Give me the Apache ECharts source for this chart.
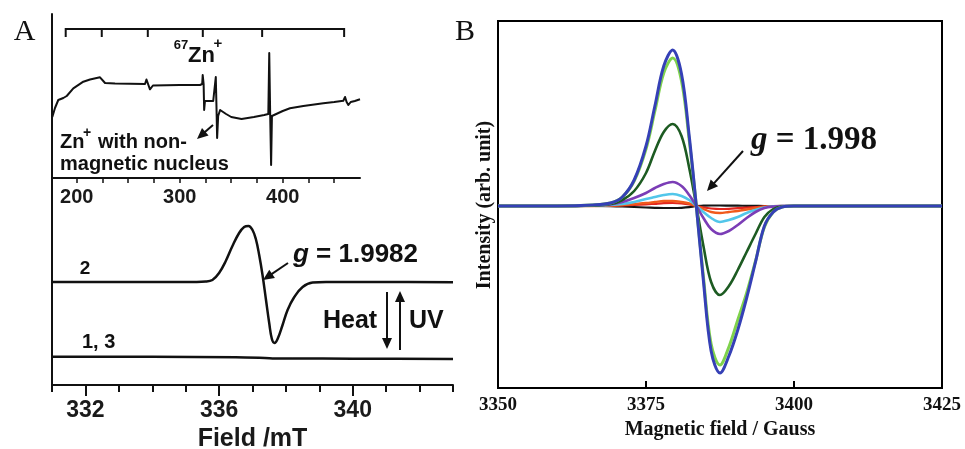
<!DOCTYPE html>
<html>
<head>
<meta charset="utf-8">
<script src="https://cdn.jsdelivr.net/npm/echarts@6/dist/echarts.min.js"></script>
<style>
html,body{margin:0;padding:0;background:#fff;}
#c{width:965px;height:449px;}
</style>
</head>
<body>
<div id="c"></div>
<script>
// ---------- Panel A, main spectra (Field / mT) ----------
const fieldA2 = [331, 333, 335, 335.6, 335.8, 336.0, 336.2, 336.4, 336.6, 336.75, 336.88, 337.0, 337.1, 337.2, 337.3, 337.4, 337.5, 337.58, 337.66, 337.75, 337.9, 338.05, 338.25, 338.5, 338.8, 339.2, 341, 343];
const trace2  = [103, 103, 103, 103.5, 105, 112, 124, 139, 152, 158, 159, 155, 146, 130, 110, 86, 62, 46, 42, 46, 60, 75, 88, 98, 102.5, 103, 103, 102.7];
const fieldA13 = [331, 334, 336.5, 337.2, 337.6, 338.2, 340, 343];
const trace13  = [28.3, 28.2, 27.8, 27.2, 26.6, 26.5, 26.3, 26.0];
const tickA  = [331, 332, 333, 334, 335, 336, 337, 338, 339, 340, 341, 342, 343];
const majorA = [332, 336, 340];

// ---------- Panel A, inset (wide scan, mT) ----------
const insetField = [176.3, 178.9, 182.1, 187, 190.3, 196.7, 206.4, 212.9, 222.6, 224.3, 227.5, 237.2, 266.3, 267.7, 271.1, 274, 300, 319.7, 321.8, 322.3, 323.2, 323.7, 324.5, 332.5, 334.3, 335.0, 335.7, 336.3, 337.3, 339.2, 345, 350, 360, 372, 382, 386.0, 386.9, 387.8, 388.7, 389.5, 391, 400, 407, 420, 439.4, 450, 458.8, 460.5, 462, 463.7, 466, 470, 475];
const insetValue = [61, 70, 78, 80, 82, 89.7, 96.3, 98.5, 100.7, 102, 95, 94.5, 94, 98.5, 88.7, 92.5, 93, 93, 94, 103, 94, 68, 77, 77, 78, 101, 70, 40, 62, 68, 64, 61, 59, 61, 63, 64, 125, 64, 13, 62, 64, 67, 69.7, 72, 74.7, 76, 77.3, 81, 76, 73, 76, 77, 78.7];
const hyperfineLines = [189.3, 224.3, 269, 322.4, 380, 459.6];
const insetTicks  = [200, 225, 250, 275, 300, 325, 350, 375, 400, 425, 450];
const insetLabels = [200, 300, 400];

// ---------- Panel B (Magnetic field / Gauss) ----------
const fieldB = [3350, 3360, 3366, 3369, 3371, 3373, 3375, 3376.5, 3378, 3379.5, 3381, 3382.3, 3383.5, 3384.7, 3386, 3387.5, 3389, 3390.5, 3392, 3393.5, 3395, 3396.5, 3398, 3400, 3410, 3425];
const bBlack  = [0, 0, 0, -0.2, -0.5, -1, -1.5, -1.8, -2, -2, -1.8, -1.2, 0, 0.3, 0.5, 0.5, 0.4, 0.3, 0.2, 0.1, 0, 0, 0, 0, 0, 0];
const bRed    = [0, 0, 0, 0.3, 0.6, 1, 1.6, 2.2, 2.8, 3, 2.5, 1.5, 0, -1.5, -2.5, -3, -2.8, -2.2, -1.6, -1, -0.4, -0.1, 0, 0, 0, 0];
const bOrange = [0, 0, 0, 0.5, 1, 2, 3, 4, 5, 5, 4, 2.5, 0, -3, -6, -7, -6, -5, -3.5, -2, -0.8, -0.2, 0, 0, 0, 0];
const bCyan   = [0, 0, 0.3, 1, 2, 4, 7, 9, 11, 12, 10, 6, 0, -6, -12, -16, -14, -11, -7, -4, -1.5, -0.3, 0, 0, 0, 0];
const bPurple = [0, 0, 0.5, 1.5, 4, 8, 13, 18, 22, 24, 20, 11, 0, -12, -23, -28, -25, -19, -12, -6, -2, -0.5, 0, 0, 0, 0];
const bDkGreen= [0, 0, 0.5, 2, 6, 15, 33, 55, 74, 82, 70, 38, 0, -40, -76, -89, -80, -64, -46, -28, -11, -3, -0.5, 0, 0, 0];
const bLtGreen= [0, 0, 1, 3, 9, 25, 57, 95, 133, 148, 125, 66, 0, -71, -138, -159, -141, -114, -87, -55, -21, -6, -1, 0, 0, 0];
const bBlue   = [0, 0, 1, 3, 9, 26, 60, 100, 140, 156, 132, 70, 0, -75, -145, -167, -150, -124, -92, -56, -20, -6, -1, 0, 0, 0];
const ticksB = [3350, 3375, 3400, 3425];

const zip = (xs, ys) => xs.map((x, i) => [x, ys[i]]);
const SANS = '"Liberation Sans", Arial, sans-serif';
const SERIF = '"Liberation Serif", "Times New Roman", serif';
const INK = '#111';

function bLine(data, color, width) {
  return {type: 'line', xAxisIndex: 3, yAxisIndex: 2, data: zip(fieldB, data), smooth: 0.35,
    showSymbol: false, symbol: 'none', lineStyle: {color: color, width: width}, z: 3};
}

function arrow(x1, y1, x2, y2) {
  const dx = x2 - x1, dy = y2 - y1, L = Math.hypot(dx, dy), ux = dx / L, uy = dy / L;
  const hl = 11, hw = 5;
  const bx = x2 - ux * hl, by = y2 - uy * hl;
  return [
    {type: 'line', shape: {x1: x1, y1: y1, x2: bx + ux * 2, y2: by + uy * 2}, style: {stroke: INK, lineWidth: 2}, z: 10},
    {type: 'polygon', shape: {points: [[x2, y2], [bx - uy * hw, by + ux * hw], [bx + uy * hw, by - ux * hw]]}, style: {fill: INK}, z: 10}
  ];
}
function txt(x, y, text, font, align, extra) {
  return Object.assign({type: 'text', x: x, y: y, z: 10,
    style: Object.assign({text: text, font: font, fill: INK, align: align || 'left', verticalAlign: 'middle'}, extra || {})});
}

const chart = echarts.init(document.getElementById('c'), null, {renderer: 'canvas'});

const option = {
  animation: false,
  backgroundColor: '#fff',
  grid: [
    {left: 52, top: 14, width: 401, height: 371, containLabel: false, outerBoundsMode: 'none'},
    {left: 52, top: 14, width: 308, height: 164, containLabel: false, outerBoundsMode: 'none'},
    {left: 498, top: 21, width: 444, height: 367, containLabel: false, outerBoundsMode: 'none',
     show: true, borderColor: '#000', borderWidth: 2, backgroundColor: 'transparent'}
  ],
  xAxis: [
    {gridIndex: 0, type: 'value', min: 331, max: 343, position: 'bottom',
     axisLine: {onZero: false, lineStyle: {color: INK, width: 2}},
     axisTick: {customValues: tickA, length: 7, lineStyle: {color: INK, width: 2}},
     axisLabel: {customValues: majorA, margin: 14, fontSize: 23, fontWeight: 'bold', fontFamily: SANS, color: '#1a1a1a'},
     splitLine: {show: false},
     name: 'Field /mT', nameLocation: 'middle', nameGap: 41,
     nameTextStyle: {fontSize: 25, fontWeight: 'bold', fontFamily: SANS, color: '#1a1a1a'}},
    {gridIndex: 0, type: 'value', min: 331, max: 343, position: 'bottom',
     axisLine: {show: false, onZero: false},
     axisTick: {customValues: majorA, length: 11, lineStyle: {color: INK, width: 2}},
     axisLabel: {show: false}, splitLine: {show: false}},
    {gridIndex: 1, type: 'value', min: 176, max: 475, position: 'bottom',
     axisLine: {onZero: false, lineStyle: {color: INK, width: 2}},
     axisTick: {customValues: insetTicks, length: 5, lineStyle: {color: INK, width: 1.5}},
     axisLabel: {customValues: insetLabels, margin: 9, fontSize: 20, fontWeight: 'bold', fontFamily: SANS, color: '#1a1a1a'},
     splitLine: {show: false}},
    {gridIndex: 2, type: 'value', min: 3350, max: 3425, interval: 25, position: 'bottom',
     axisLine: {onZero: false, lineStyle: {color: '#000', width: 2}},
     axisTick: {inside: true, length: 7, lineStyle: {color: '#000', width: 2}},
     axisLabel: {customValues: ticksB, margin: 8, fontSize: 19, fontWeight: 'bold', fontFamily: SERIF, color: '#111',
                 formatter: function (v) { return String(v); }},
     splitLine: {show: false},
     name: 'Magnetic field / Gauss', nameLocation: 'middle', nameGap: 32,
     nameTextStyle: {fontSize: 20, fontWeight: 'bold', fontFamily: SERIF, color: '#111'}}
  ],
  yAxis: [
    {gridIndex: 0, type: 'value', min: 0, max: 371,
     axisLine: {show: true, onZero: false, lineStyle: {color: INK, width: 2}},
     axisTick: {show: false}, axisLabel: {show: false}, splitLine: {show: false}},
    {gridIndex: 1, type: 'value', min: 0, max: 164, show: false, splitLine: {show: false}},
    {gridIndex: 2, type: 'value', min: -182, max: 185,
     axisLine: {show: true, onZero: false, lineStyle: {color: '#000', width: 2}},
     axisTick: {show: false}, axisLabel: {show: false}, splitLine: {show: false}}
  ],
  series: [
    // Panel A main
    {type: 'line', xAxisIndex: 0, yAxisIndex: 0, data: zip(fieldA2, trace2), smooth: 0.4, symbol: 'none',
     lineStyle: {color: INK, width: 2.5}},
    {type: 'line', xAxisIndex: 0, yAxisIndex: 0, data: zip(fieldA13, trace13), smooth: 0.3, symbol: 'none',
     lineStyle: {color: INK, width: 2.5}},
    // Panel A inset spectrum
    {type: 'line', xAxisIndex: 2, yAxisIndex: 1, data: zip(insetField, insetValue), smooth: false, symbol: 'none',
     lineStyle: {color: INK, width: 2, join: 'round'}},
    // 67Zn+ hyperfine stick bracket
    {type: 'line', xAxisIndex: 2, yAxisIndex: 1,
     data: [[hyperfineLines[0], 149], [hyperfineLines[hyperfineLines.length - 1], 149]],
     symbol: 'none', lineStyle: {color: INK, width: 2}},
    {type: 'custom', xAxisIndex: 2, yAxisIndex: 1, data: hyperfineLines.map(v => [v]),
     renderItem: function (params, api) {
       const p1 = api.coord([api.value(0), 149]);
       const p2 = api.coord([api.value(0), 141]);
       return {type: 'line', shape: {x1: p1[0], y1: p1[1] - 1, x2: p2[0], y2: p2[1]}, style: {stroke: INK, lineWidth: 2}};
     }},
    // Panel B
    bLine(bBlack, '#151515', 2.2),
    bLine(bRed, '#e3261e', 2.2),
    bLine(bOrange, '#f05a1c', 2.4),
    bLine(bCyan, '#52c6ea', 2.6),
    bLine(bPurple, '#7b3db6', 2.6),
    bLine(bDkGreen, '#1d5b22', 2.6),
    bLine(bLtGreen, '#7fd24c', 3),
    bLine(bBlue, '#3540b6', 3)
  ],
  graphic: [].concat(
    [
      txt(24.5, 32, 'A', 'normal 30px ' + SERIF, 'center'),
      txt(465, 32, 'B', 'normal 30px ' + SERIF, 'center'),
      // 67Zn+
      txt(181, 45, '67', 'bold 13px ' + SANS, 'center'),
      txt(188, 56, 'Zn', 'bold 22px ' + SANS, 'left'),
      txt(218, 44, '+', 'bold 15px ' + SANS, 'center'),
      // Zn+ with non-magnetic nucleus
      txt(60, 142, 'Zn', 'bold 20px ' + SANS, 'left'),
      txt(87, 133, '+', 'bold 14px ' + SANS, 'center'),
      txt(98, 142, 'with non-', 'bold 20px ' + SANS, 'left'),
      txt(60, 164, 'magnetic nucleus', 'bold 20px ' + SANS, 'left'),
      // curve labels
      txt(85, 269, '2', 'bold 19px ' + SANS, 'center'),
      txt(82, 342, '1, 3', 'bold 20px ' + SANS, 'left'),
      txt(293, 255, '{i|g}{n| = 1.9982}', 'bold 26px ' + SANS, 'left', {
        rich: {i: {fontStyle: 'italic', fontWeight: 'bold', fontSize: 26, fontFamily: SANS, fill: INK},
               n: {fontWeight: 'bold', fontSize: 26, fontFamily: SANS, fill: INK}}}),
      txt(323, 321, 'Heat', 'bold 25px ' + SANS, 'left'),
      txt(409, 321, 'UV', 'bold 25px ' + SANS, 'left'),
      // Panel B
      txt(751, 140, '{i|g}{n| = 1.998}', 'bold 33px ' + SERIF, 'left', {
        rich: {i: {fontStyle: 'italic', fontWeight: 'bold', fontSize: 33, fontFamily: SERIF, fill: INK},
               n: {fontWeight: 'bold', fontSize: 33, fontFamily: SERIF, fill: INK}}}),
      Object.assign(txt(485, 205, 'Intensity (arb. unit)', 'bold 20px ' + SERIF, 'center'), {rotation: Math.PI / 2})
    ],
    arrow(213, 125, 197, 139),
    arrow(288, 263, 263, 280),
    arrow(387, 292, 387, 349),
    arrow(400, 350, 400, 291),
    arrow(743, 151, 707, 191)
  )
};
chart.setOption(option);
</script>
</body>
</html>
